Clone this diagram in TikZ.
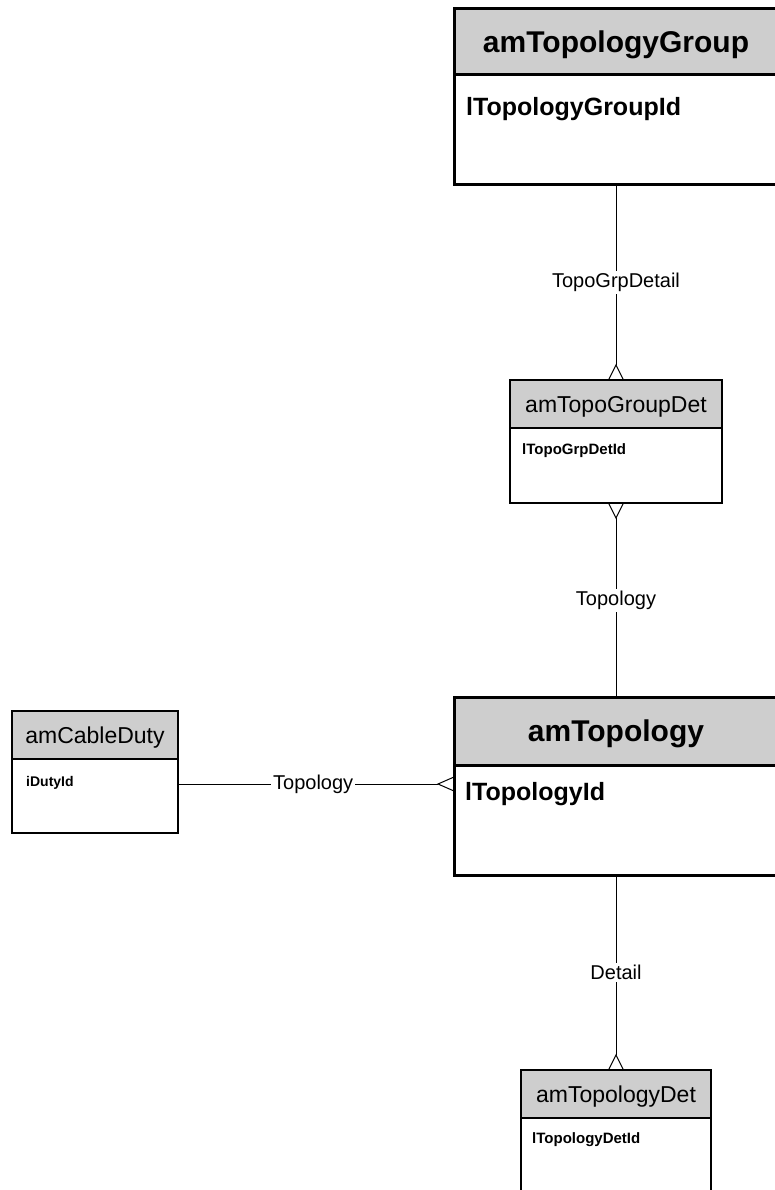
\documentclass[tikz,border=0pt]{standalone}
\usepackage{fontspec}
\setmainfont{Liberation Sans}
\usepackage{xcolor}
\usepackage{tikz}
\usetikzlibrary{positioning,calc}
\definecolor{hdrgray}{RGB}{206,206,206}

\begin{document}
\begin{tikzpicture}[
    x=1pt, y=1pt,
    node distance=0pt,
    head/.style={rectangle, draw, fill=hdrgray, line width=3pt, outer sep=0pt, inner sep=0pt, minimum width=324pt, minimum height=66pt, text depth=0pt, font=\fontsize{30}{36}\selectfont\bfseries},
    body/.style={rectangle, draw, fill=white, line width=3pt, outer sep=0pt, inner sep=0pt, minimum width=324pt, minimum height=110pt},
    smallhead/.style={head, line width=2pt, minimum height=48pt, font=\fontsize{23}{28}\selectfont},
    smallbody/.style={body, line width=2pt},
    attr/.style={inner sep=0pt, anchor=north west, font=\fontsize{25}{30}\selectfont\bfseries},
    smallattr/.style={attr, font=\fontsize{15}{18}\selectfont\bfseries},
    conn/.style={draw, line width=1pt},
    foot/.style={draw, line width=1pt},
    rel/.style={fill=white, inner sep=2pt, font=\fontsize{20}{24}\selectfont}
]
\useasboundingbox[fill=white] (0,0) rectangle (775,-1190);

\node[head, anchor=north west] (grphead) at (454,-9) {amTopologyGroup};
\node[body, below=of grphead] (grpbody) {};
\node[attr, below right=22pt and 12pt of grpbody.north west] (grpid) {lTopologyGroupId};

\node[smallhead, anchor=north west, minimum width=212pt] (gdhead) at (510,-380) {amTopoGroupDet};
\node[smallbody, below=of gdhead, minimum width=212pt, minimum height=75pt] (gdbody) {};
\node[smallattr, below right=15pt and 12pt of gdbody.north west] (gdid) {lTopoGrpDetId};

\node[head, anchor=north west, minimum height=68pt] (topohead) at (454,-697) {amTopology};
\node[body, below=of topohead] (topobody) {};
\node[attr, below right=17pt and 11pt of topobody.north west] (topoid) {lTopologyId};

\node[smallhead, anchor=north west, minimum width=166pt] (dutyhead) at (12,-711) {amCableDuty};
\node[smallbody, below=of dutyhead, minimum width=166pt, minimum height=74pt] (dutybody) {};
\node[smallattr, font=\fontsize{14}{17}\selectfont\bfseries, below right=17pt and 14pt of dutybody.north west] (dutyid) {iDutyId};

\node[smallhead, anchor=north west, minimum width=190pt] (dethead) at (521,-1070) {amTopologyDet};
\node[smallbody, below=of dethead, minimum width=190pt, minimum height=80pt] (detbody) {};
\node[smallattr, below right=14pt and 11pt of detbody.north west] (detid) {lTopologyDetId};

\coordinate[above=15pt of gdhead.north] (gdtop);
\coordinate[below=15pt of gdbody.south] (gdbot);
\coordinate[above=15pt of dethead.north] (dettop);
\coordinate (hline) at (0,-784);
\coordinate (topoleft) at ($(topobody.west |- hline)+(-16,0)$);

\draw[conn] (grpbody.south) -- node[rel, pos=0.54] {TopoGrpDetail} (gdtop);
\draw[foot] ($(gdhead.north)+(-7.5,0)$) -- (gdtop) -- ($(gdhead.north)+(7.5,0)$);

\draw[conn] (gdbot) -- node[rel, pos=0.46] {Topology} (topohead.north);
\draw[foot] ($(gdbody.south)+(-7.5,0)$) -- (gdbot) -- ($(gdbody.south)+(7.5,0)$);

\draw[conn] (dutybody.east |- hline) -- node[rel, pos=0.52] {Topology} (topoleft);
\draw[foot] ($(topobody.west |- hline)+(0,7)$) -- (topoleft) -- ($(topobody.west |- hline)+(0,-7)$);

\draw[conn] (topobody.south) -- node[rel, pos=0.54] {Detail} (dettop);
\draw[foot] ($(dethead.north)+(-7.5,0)$) -- (dettop) -- ($(dethead.north)+(7.5,0)$);

\end{tikzpicture}
\end{document}
